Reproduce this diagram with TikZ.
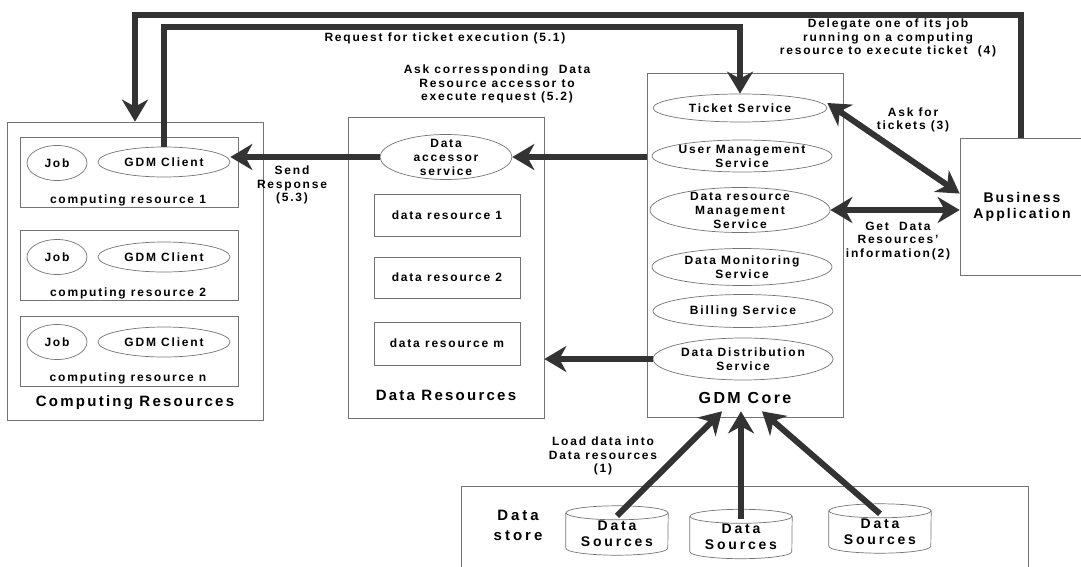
\documentclass[tikz,border=0pt]{standalone}
\usepackage{fontspec}
\setmainfont{Liberation Sans}[LetterSpace=15]
\usetikzlibrary{arrows.meta,shapes.geometric,calc}
\tikzset{
  grp/.style={draw=black!55, line width=0.7pt, rectangle, inner sep=0pt},
  ell/.style={draw=black!55, line width=0.7pt, ellipse, inner sep=-6pt, align=center,
              font=\fontsize{12}{14}\selectfont\bfseries},
  lbl/.style={align=center, inner sep=0pt, font=\fontsize{12}{13.5}\selectfont\bfseries},
  txt/.style={align=center, inner sep=0pt, font=\fontsize{12}{14}\selectfont\bfseries},
  ttl/.style={align=center, inner sep=0pt, font=\fontsize{15}{17}\selectfont\bfseries},
  big/.style={align=center, inner sep=0pt, font=\fontsize{14}{16}\selectfont\bfseries\addfontfeature{LetterSpace=20}},
  cyl/.style={draw=black!55, line width=0.7pt},
  tip/.tip={Stealth[length=22pt,width=26pt,inset=7pt]},
  arr/.style={draw=black!80, line width=6pt, -tip},
  darr/.style={draw=black!80, line width=6pt, tip-tip},
}
\begin{document}
\begin{tikzpicture}[x=1pt,y=1pt]
\useasboundingbox (0,0) rectangle (1081,-567);

% Computing resources
\node[grp, minimum width=256, minimum height=298] (CR) at (135,-271) {};
\node[ttl] (CRt) at (135,-403) {Computing Resources};
\foreach \i/\y in {1/-172, 2/-265.5, 3/-351.5}{
  \node[grp, minimum width=218, minimum height=70] (cr\i) at (129,\y) {};
}
\node[ell, minimum width=60, minimum height=35] (job1) at (57,-163) {Job};
\node[ell, minimum width=132, minimum height=30] (gdm1) at (164,-162) {GDM Client};
\node[txt] (cr1t) at (128,-200) {computing resource 1};
\node[ell, minimum width=60, minimum height=35] (job2) at (57,-257) {Job};
\node[ell, minimum width=132, minimum height=30] (gdm2) at (164,-257) {GDM Client};
\node[txt] (cr2t) at (128,-293) {computing resource 2};
\node[ell, minimum width=60, minimum height=35] (job3) at (57,-342) {Job};
\node[ell, minimum width=132, minimum height=30] (gdm3) at (164,-342) {GDM Client};
\node[txt] (cr3t) at (128,-378) {computing resource n};

% Data resources
\node[grp, minimum width=196, minimum height=301] (DR) at (446,-267.5) {};
\node[ttl] (DRt) at (446,-395) {Data Resources};
\node[ell, minimum width=132, minimum height=45] (das) at (446,-157) {Data\\accessor\\service};
\node[grp, minimum width=146, minimum height=42, txt] (dr1) at (447,-215) {data resource 1};
\node[grp, minimum width=146, minimum height=41, txt] (dr2) at (447,-277.5) {data resource 2};
\node[grp, minimum width=146, minimum height=43, txt] (drm) at (447,-343.5) {data resource m};

% GDM Core
\node[grp, minimum width=196, minimum height=344] (core) at (745,-245) {};
\node[ttl, font=\fontsize{16}{18}\selectfont\bfseries] (coret) at (745,-398) {GDM Core};
\node[ell, minimum width=174, minimum height=28] (ticket) at (740,-108) {Ticket Service};
\node[ell, minimum width=180, minimum height=32] (ums) at (742,-156) {User Management\\Service};
\node[ell, minimum width=180, minimum height=45] (drms) at (740,-210) {Data resource\\Management\\Service};
\node[ell, minimum width=180, minimum height=37] (dms) at (742,-267) {Data Monitoring\\Service};
\node[ell, minimum width=180, minimum height=33] (bill) at (743,-311) {Billing Service};
\node[ell, minimum width=180, minimum height=42] (dds) at (743,-359) {Data Distribution\\Service};

% Business application
\node[grp, minimum width=121, minimum height=137] (BA) at (1020.5,-206.5) {};
\node[big, font=\fontsize{14}{16}\selectfont\bfseries] (BAt) at (1022,-207) {Business\\Application};

% Data store
\draw[grp] (461,-590) -- (461,-486) -- (1028,-486) -- (1028,-590);
\node[big, font=\fontsize{15}{20}\selectfont\bfseries\addfontfeature{LetterSpace=20}] (dst) at (518,-525) {Data\\store};
\node[big, minimum width=102, minimum height=35] (ds1) at (617,-533.5) {Data\\Sources};
\node[big, minimum width=102, minimum height=35] (ds2) at (741,-537) {Data\\Sources};
\node[big, minimum width=102, minimum height=35] (ds3) at (880,-531.5) {Data\\Sources};
\foreach \n in {ds1,ds2,ds3}{
  \draw[cyl] ([yshift=3pt]\n.north west) -- ([yshift=3pt]\n.south west)
     arc[start angle=180,end angle=360,x radius=51,y radius=7] -- ([yshift=3pt]\n.north east);
  \draw[cyl] ([yshift=3pt]\n.north) ellipse[x radius=51,y radius=7];
}

% Labels
\node[lbl] (l51) at (445,-38) {Request for ticket execution (5.1)};
\node[lbl] (l52) at (497,-84) {Ask corressponding\ \ Data\\Resource accessor to\\execute request (5.2)};
\node[lbl] (l53) at (292,-185) {Send\\Response\\(5.3)};
\node[lbl] (l4) at (888,-38) {Delegate one of its job\\running on a computing\\resource to execute ticket\ \ (4)};
\node[lbl] (l3) at (913,-120) {Ask for\\tickets (3)};
\node[lbl] (l2) at (898,-241) {Get\ \ Data\\Resources'\\information(2)};
\node[lbl] (l1) at (603,-456) {Load data into\\Data resources\\(1)};

% Connectors
\draw[arr] (BA.north) -- ++(0,123) -| (CR.north);
\draw[arr] (gdm1.north) -- ++(0,120) -| (ticket.north);
\draw[darr] ([yshift=5pt]ticket.east) -- (BA.168);
\draw[darr] (drms.east) -- (drms.east -| BA.west);
\draw[arr] (core.west |- das.east) -- (das.east);
\draw[arr] (das.west) -- (das.west -| gdm1.east);
\draw[arr] (dds.west) -- (dds.west -| DR.east);
\draw[arr] (ds1.north) -- ([xshift=-23pt,yshift=6pt]core.south);
\draw[arr] (ds2.north) -- ([xshift=-4pt,yshift=6pt]core.south);
\draw[arr] (ds3.north) -- ([xshift=17pt,yshift=6pt]core.south);
\end{tikzpicture}
\end{document}
